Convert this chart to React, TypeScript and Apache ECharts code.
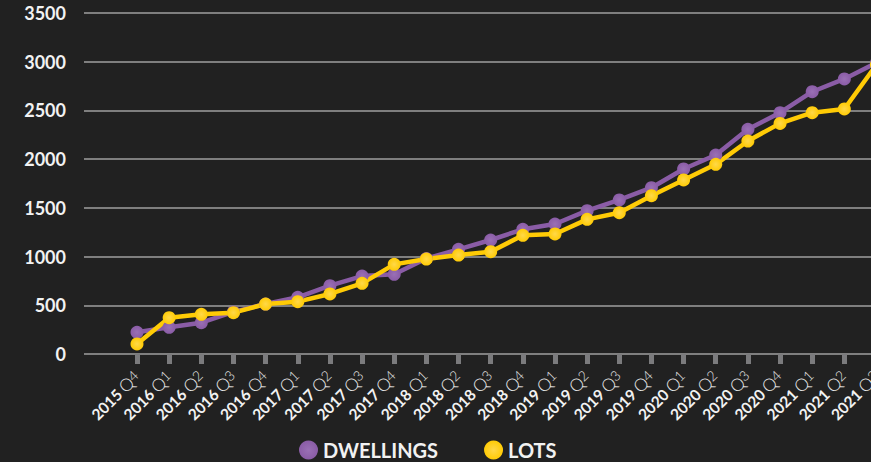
import React, { useEffect, useRef } from "react";
import * as echarts from "echarts";

const categories = [
  "2015 Q4", "2016 Q1", "2016 Q2", "2016 Q3", "2016 Q4",
  "2017 Q1", "2017 Q2", "2017 Q3", "2017 Q4",
  "2018 Q1", "2018 Q2", "2018 Q3", "2018 Q4",
  "2019 Q1", "2019 Q2", "2019 Q3", "2019 Q4",
  "2020 Q1", "2020 Q2", "2020 Q3", "2020 Q4",
  "2021 Q1", "2021 Q2", "2021 Q3",
];

const dwellings = [
  223, 274, 321, 432, 513,
  582, 701, 800, 818,
  980, 1074, 1170, 1280,
  1334, 1471, 1581, 1707,
  1899, 2042, 2306, 2477,
  2692, 2823, 2990,
];

const lots = [
  103, 373, 407, 424, 513,
  537, 616, 725, 920,
  975, 1016, 1050, 1218,
  1232, 1382, 1450, 1625,
  1786, 1947, 2186, 2367,
  2477, 2515, 2970,
];

const yTicks = { min: 0, max: 3500, interval: 500 };

const PURPLE = "#8a5ca6";
const YELLOW = "#ffcb05";

function dot(inner: string, outer: string) {
  return new echarts.graphic.RadialGradient(0.5, 0.5, 0.5, [
    { offset: 0, color: inner },
    { offset: 1, color: outer },
  ]);
}

export default function App() {
  const ref = useRef<HTMLDivElement>(null);

  useEffect(() => {
    if (!ref.current) return;
    const chart = echarts.init(ref.current, undefined, { renderer: "svg" });
    const font = "Lato, 'DejaVu Sans', sans-serif";
    chart.setOption({
      animation: false,
      backgroundColor: "#212121",
      textStyle: { fontFamily: font },
      grid: [
        { left: 84, right: 0, top: 13, bottom: 108 },
        { left: 137, right: 23.5, top: 13, bottom: 108 },
      ],
      xAxis: [
        { type: "value", gridIndex: 0, min: 0, max: 1, show: false },
        {
          type: "category",
          gridIndex: 1,
          data: categories,
          boundaryGap: false,
          axisLine: { show: false },
          axisTick: {
            show: true,
            alignWithLabel: true,
            length: 10,
            lineStyle: { color: "#7b7b7d", width: 5 },
          },
          axisLabel: {
            interval: 0,
            rotate: 45,
            margin: 20,
            formatter: (v: string) => {
              const [y, q] = v.split(" ");
              return `{y|${y}} {q|Q}{n|${q.slice(1)}}`;
            },
            rich: {
              y: { fontFamily: font, fontWeight: "bold", fontSize: 15.5, color: "#f2f2f2", lineHeight: 18 },
              q: { fontFamily: font, fontWeight: 300, fontSize: 17.5, color: "#e6e6e6", lineHeight: 18 },
              n: { fontFamily: font, fontWeight: 300, fontSize: 14, color: "#e6e6e6", lineHeight: 14, verticalAlign: "top" },
            },
          },
        },
      ],
      yAxis: [
        {
          type: "value",
          gridIndex: 0,
          min: yTicks.min,
          max: yTicks.max,
          interval: yTicks.interval,
          axisLine: { show: false },
          axisTick: { show: false },
          axisLabel: {
            margin: 18,
            color: "#f2f2f2",
            fontSize: 18,
            fontWeight: "bold",
            fontFamily: font,
            formatter: (v: number) => String(v),
          },
          splitLine: { show: true, lineStyle: { color: "#7f7f7f", width: 2 } },
        },
        {
          type: "value",
          gridIndex: 1,
          min: yTicks.min,
          max: yTicks.max,
          interval: yTicks.interval,
          show: false,
          splitLine: { show: false },
        },
      ],
      legend: {
        left: 294,
        top: 435,
        icon: "circle",
        itemWidth: 19,
        itemHeight: 19,
        itemGap: 46,
        textStyle: { color: "#f2f2f2", fontSize: 20, fontWeight: "bold", fontFamily: font },
        data: ["DWELLINGS", "LOTS"],
      },
      series: [
        {
          name: "DWELLINGS",
          type: "line",
          xAxisIndex: 1,
          yAxisIndex: 1,
          data: dwellings,
          symbol: "circle",
          symbolSize: 13,
          color: PURPLE,
          lineStyle: { color: PURPLE, width: 4.5 },
          itemStyle: { color: dot("#9a70b5", PURPLE) },
        },
        {
          name: "LOTS",
          type: "line",
          xAxisIndex: 1,
          yAxisIndex: 1,
          data: lots,
          symbol: "circle",
          symbolSize: 13,
          color: YELLOW,
          lineStyle: { color: YELLOW, width: 4.5 },
          itemStyle: { color: dot("#ffd84a", YELLOW) },
        },
      ],
    });
    return () => chart.dispose();
  }, []);

  return (
    <div
      style={{
        position: "fixed",
        left: 0,
        top: 0,
        width: 871,
        height: 462,
        overflow: "hidden",
        background: "#212121",
      }}
    >
      <div ref={ref} style={{ width: 900, height: 462 }} />
    </div>
  );
}
